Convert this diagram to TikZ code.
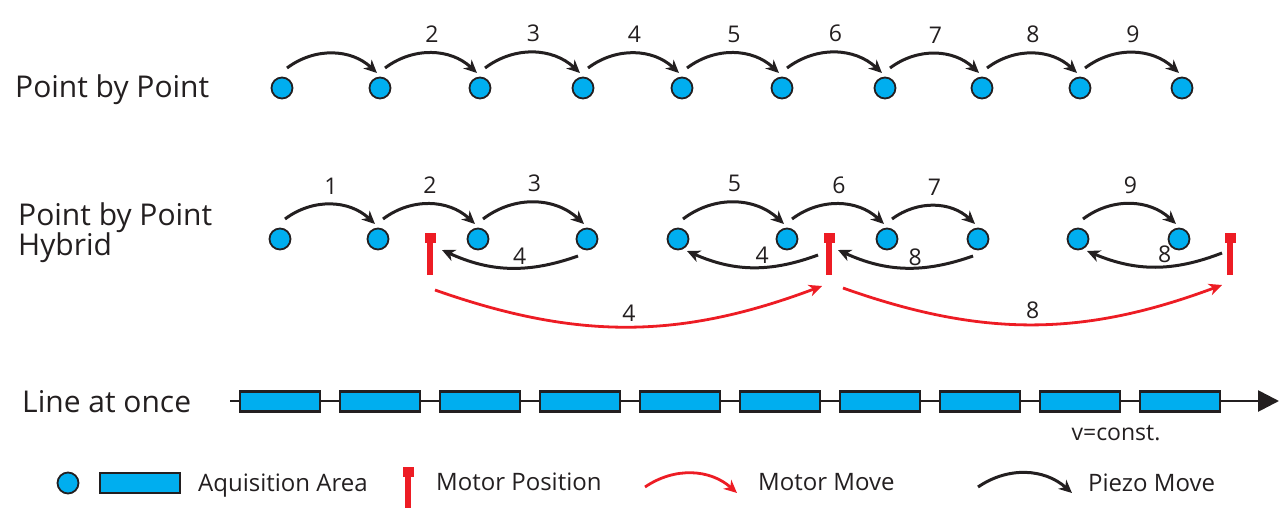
\documentclass[tikz,border=0pt]{standalone}
\usepackage{fontspec}
\setmainfont{Open Sans}
\usetikzlibrary{arrows.meta}
\definecolor{acq}{HTML}{00AEEF}
\definecolor{mred}{HTML}{ED1C24}
\definecolor{ink}{HTML}{231F20}

\tikzset{
  spot/.style={circle, fill=acq, draw=ink, line width=1.8pt, minimum size=21pt, inner sep=0pt},
  frame/.style={rectangle, fill=acq, draw=ink, line width=2.2pt, minimum width=80pt, minimum height=20pt, inner sep=0pt},
  piezo/.style={draw=ink, line width=3pt, -{Stealth[length=13pt, width=12pt, inset=4pt]}},
  motormove/.style={draw=mred, line width=2.8pt, -{Stealth[length=13pt, width=12pt, inset=4pt]}},
  motorhead/.style={rectangle, fill=mred, minimum width=11pt, minimum height=10pt, inner sep=0pt},
  num/.style={font=\fontsize{23}{23}\selectfont, text=ink, inner sep=1pt},
  rowlabel/.style={font=\fontsize{30}{30}\selectfont, text=ink, anchor=base west, align=left, inner sep=0pt},
  legendtext/.style={font=\fontsize{24}{24}\selectfont, text=ink, anchor=base west, inner sep=0pt},
}

\begin{document}
\begin{tikzpicture}[x=1pt, y=-1pt]
\useasboundingbox (0,0) rectangle (1287,517);

% ---------- row labels ----------
\node[rowlabel] (l1) at (15,97) {Point by Point};
\node[rowlabel] (l2) at (18,225) {Point by Point};
\node[rowlabel] (l2b) at (18,255) {Hybrid};
\node[rowlabel] (l3) at (22,412) {Line at once};

% ---------- point by point ----------
\foreach \x [count=\i] in {282,380,480,583,682,782,885,982,1080,1182}
  \node[spot] (a\i) at (\x,88) {};
\draw[piezo] ([shift={(5,-20)}]a1.center) to[bend left=40] ([shift={(-3,-15)}]a2.center);
\foreach \i in {2,...,9}{
  \pgfmathtruncatemacro\j{\i+1}
  \draw[piezo] ([shift={(5,-20)}]a\i.center) to[bend left=40]
    node[num, midway, above=8pt] (na\i) {\i} ([shift={(-3,-15)}]a\j.center);
}

% ---------- point by point hybrid ----------
\foreach \x [count=\i] in {280,378,478,587,678,787,887,978,1078,1179}
  \node[spot] (b\i) at (\x,239) {};
\foreach \x [count=\i] in {430,829,1230}{
  \node[motorhead] (m\i) at (\x,238) {};
  \fill[mred] ([shift={(-2.7,0)}]m\i.south) rectangle ([shift={(2.7,32)}]m\i.south);
}
% forward piezo moves
\foreach \s/\t/\n in {1/2/1, 2/3/2, 3/4/3, 5/6/5, 6/7/6, 7/8/7, 9/10/9}
  \draw[piezo] ([shift={(5,-20)}]b\s.center) to[bend left=40]
    node[num, midway, above=8pt] (nb\n) {\n} ([shift={(-3,-15)}]b\t.center);
% backward piezo moves onto the motor positions
\draw[piezo] ([shift={(-9,17)}]b4.center) to[bend left=22]
  node[num, pos=0.42, above=1pt] (r1) {4} ([shift={(12,12)}]m1.center);
\draw[piezo] ([shift={(-11,17)}]m2.center) to[bend left=22]
  node[num, pos=0.42, above=1pt] (r2) {4} ([shift={(9,12)}]b5.center);
\draw[piezo] ([shift={(-5,17)}]b8.center) to[bend left=22]
  node[num, pos=0.42, above=0pt] (r3) {8} ([shift={(9,12)}]m2.center);
\draw[piezo] ([shift={(-8,15)}]m3.center) to[bend left=22]
  node[num, pos=0.42, above=1pt] (r4) {8} ([shift={(9,12)}]b9.center);
% motor moves
\draw[motormove] ([shift={(5,52)}]m1.center) to[bend right=20]
  node[num, midway, above=3pt] (mm1) {4} ([shift={(-7,48)}]m2.center);
\draw[motormove] ([shift={(14,50)}]m2.center) to[bend right=20]
  node[num, midway, above=3pt] (mm2) {8} ([shift={(-8,47)}]m3.center);

% ---------- line at once ----------
\coordinate (ls) at (230,401);
\coordinate (le) at (1279,401);
\draw[ink, line width=2.7pt, -{Triangle[length=21pt, width=21pt]}] (ls) -- (le);
\foreach \k in {0,...,9}
  \node[frame] (f\k) at (280+100*\k,401.5) {};
\node[font=\fontsize{23}{23}\selectfont, text=ink, inner sep=0pt] (vc) at (1116,433) {v=const.};

% ---------- legend ----------
\node[spot] (k1) at (68,483) {};
\node[frame] (k2) at (140,483) {};
\node[legendtext] (k3) at (198,491) {Aquisition Area};
\node[motorhead] (k4) at (408,472) {};
\fill[mred] ([shift={(-2.7,0)}]k4.south) rectangle ([shift={(2.7,31)}]k4.south);
\node[legendtext] (k5) at (436,490) {Motor Position};
\coordinate (k6s) at (645,487);
\coordinate (k6e) at (737,493);
\draw[motormove] (k6s) to[bend left=38] (k6e);
\node[legendtext] (k7) at (758,490) {Motor Move};
\coordinate (k8s) at (978,487);
\coordinate (k8e) at (1072,493);
\draw[piezo] (k8s) to[bend left=38] (k8e);
\node[legendtext] (k9) at (1088,491) {Piezo Move};
\end{tikzpicture}
\end{document}
